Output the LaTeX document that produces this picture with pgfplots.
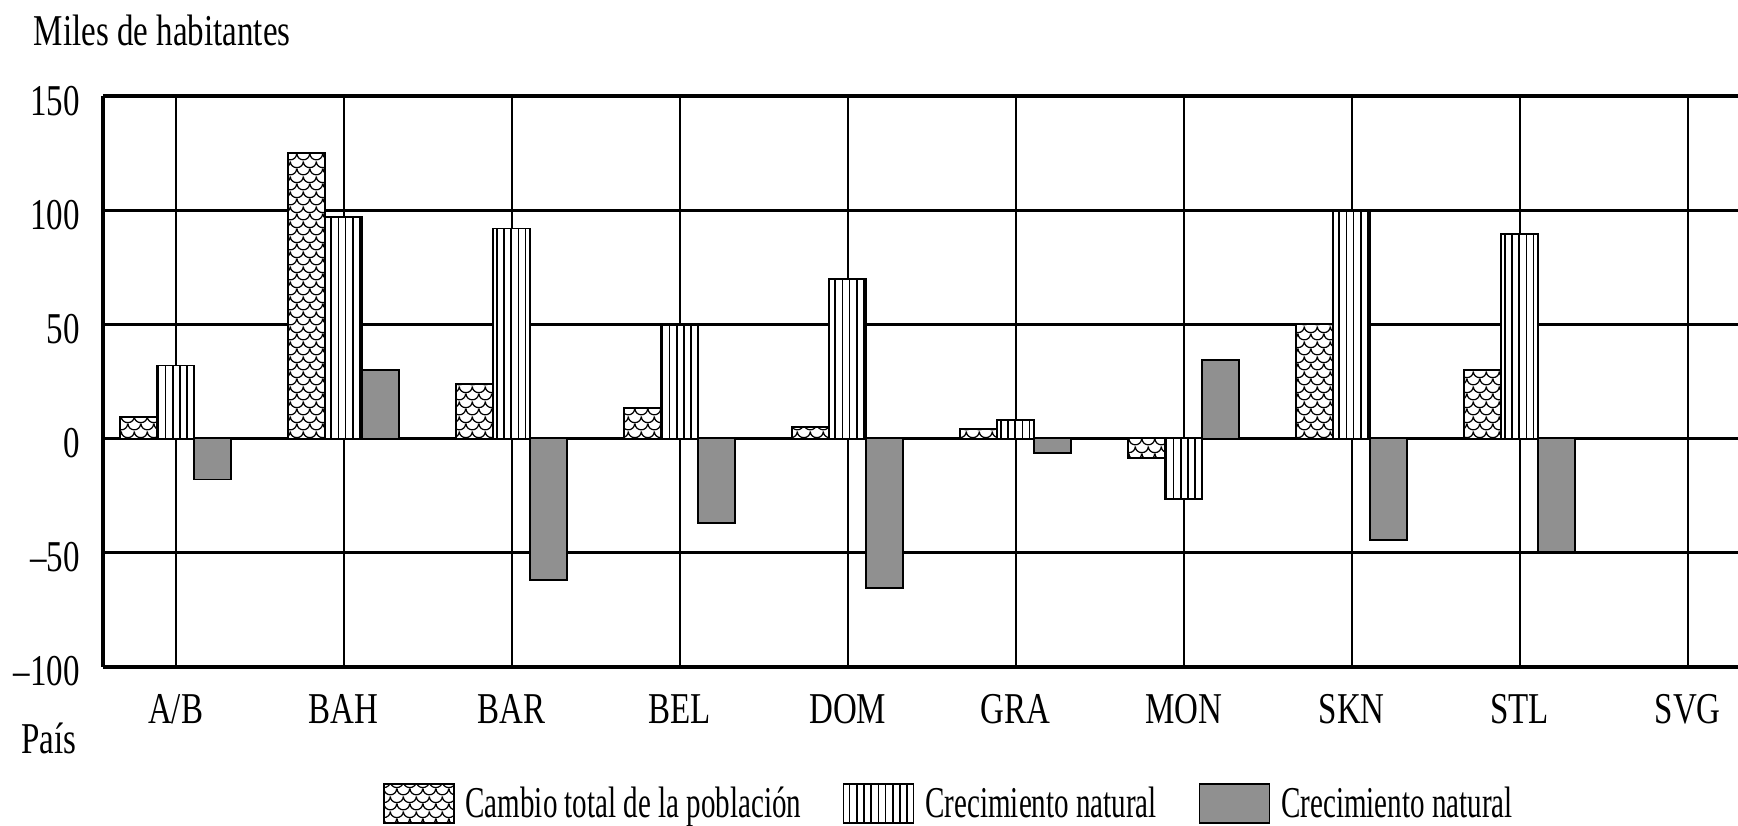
\documentclass[border=0pt]{standalone}
\usepackage{fontspec}
\setmainfont{Liberation Serif}[FakeStretch=0.75]
\newfontfamily\legfont{Liberation Serif}[FakeStretch=0.66]
\usepackage{pgfplots}
\pgfplotsset{compat=1.18}
\usetikzlibrary{patterns,patterns.meta}
\definecolor{barGray}{RGB}{144,144,144}
\newcommand\ff{\fontsize{11}{13}\selectfont}

% fish-scale fill for the first series
\pgfdeclarepatternformonly{fishscales}{\pgfqpoint{0pt}{0pt}}{\pgfqpoint{3.2pt}{3.8pt}}{\pgfqpoint{3.2pt}{3.8pt}}{%
  \pgfsetlinewidth{0.32pt}%
  \pgfpathmoveto{\pgfqpoint{0pt}{1.9pt}}\pgfpatharc{180}{360}{1.6pt}%
  \pgfpathmoveto{\pgfqpoint{-1.6pt}{3.8pt}}\pgfpatharc{180}{360}{1.6pt}%
  \pgfpathmoveto{\pgfqpoint{1.6pt}{3.8pt}}\pgfpatharc{180}{360}{1.6pt}%
  \pgfusepath{stroke}}

\begin{document}
\begin{tikzpicture}
\useasboundingbox (-25.8pt,-39.6pt) rectangle (408.7pt,166.7pt);
\begin{axis}[
  scale only axis, width=408.7pt, height=142.7pt,
  xmin=-0.431, xmax=9.299, ymin=-100, ymax=150,
  axis x line*=box, axis y line*=left,
  axis line style={line width=0.85pt},
  xtick={0,...,9},
  xticklabels={A/B,BAH,BAR,BEL,DOM,GRA,MON,SKN,STL,SVG},
  ytick={-100,-50,0,50,100,150},
  yticklabels={--100,--50,0,50,100,150},
  major tick length=0pt,
  xmajorgrids, ymajorgrids,
  major x grid style={line width=0.5pt, black},
  major y grid style={line width=0.7pt, black},
  xticklabel style={font=\ff, inner sep=0pt, anchor=base, yshift=-14.15pt},
  yticklabel style={font=\ff, inner sep=0pt, anchor=base east, xshift=-5.65pt, yshift=-4.75pt},
  ybar=0pt, bar width=9.25pt,
  legend columns=3,
  legend style={at={(0,0)}, anchor=west, xshift=69.7pt, yshift=-34.7pt,
    draw=none, fill=none, inner sep=0pt, font=\legfont\ff,
    nodes={inner sep=0pt, text height=7.5pt, text depth=2.5pt},
    /tikz/every odd column/.append style={column sep=2.75pt},
    /tikz/every even column/.append style={column sep=10.4pt}},
  legend image code/.code={\draw[#1] (0pt,-3.875pt) rectangle (17.5pt,5.875pt);},
]
\addplot[draw=black, line width=0.45pt, fill=white, postaction={pattern=fishscales}]
  coordinates {(0,9.5) (1,125) (2,24) (3,13.5) (4,5) (5,4) (6,-8.5) (7,50) (8,30)};
\addplot[draw=black, line width=0.45pt, fill=white, postaction={pattern={Lines[angle=90,distance=1.8pt,line width=0.38pt]}}]
  coordinates {(0,32) (1,97) (2,92) (3,49.5) (4,70) (5,8) (6,-26.5) (7,99.5) (8,89.5)};
\addplot[draw=black, line width=0.45pt, fill=barGray]
  coordinates {(0,-18) (1,30) (2,-62) (3,-37) (4,-65.5) (5,-6.5) (6,34.5) (7,-44.5) (8,-49.5)};
\legend{Cambio total de la población, Crecimiento natural, Crecimiento natural}
\end{axis}
\node[anchor=base west, inner sep=0pt, font=\ff] at (-17.5pt,155.3pt) {Miles de habitantes};
\node[anchor=base west, inner sep=0pt, font=\ff] at (-20.65pt,-21.8pt) {País};
\end{tikzpicture}
\end{document}
